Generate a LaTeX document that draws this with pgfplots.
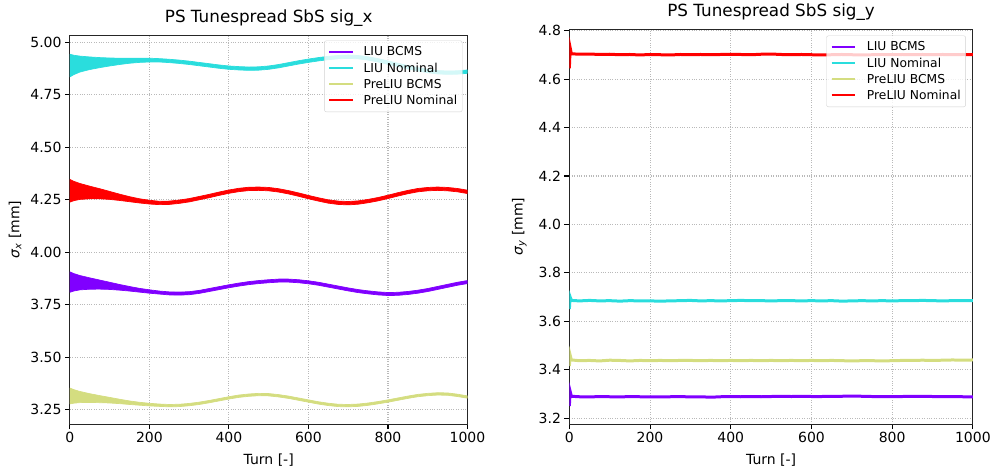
\documentclass[border=0pt]{standalone}
\usepackage{pgfplots}
\usepackage{pgfplotstable}
\pgfplotsset{compat=1.18}
\usepgfplotslibrary{fillbetween}
\usepackage{fontspec}
\setmainfont{DejaVu Sans}

\definecolor{cpur}{rgb}{0.5,0,1}
\definecolor{ccya}{rgb}{0.166,0.866,0.866}
\definecolor{cyel}{rgb}{0.833,0.866,0.5}
\definecolor{cred}{rgb}{1,0,0}

% left panel: band centres and half widths
\pgfplotstableread{
x c1 c2 c3 c4 h
0 3.858 4.890 3.315 4.293 0.054
10 3.857 4.893 3.313 4.292 0.046
25 3.855 4.897 3.310 4.290 0.038
50 3.851 4.901 3.305 4.285 0.030
75 3.846 4.904 3.300 4.279 0.024
100 3.840 4.907 3.295 4.271 0.019
125 3.833 4.910 3.289 4.262 0.015
150 3.826 4.913 3.283 4.253 0.012
175 3.819 4.915 3.278 4.245 0.010
200 3.813 4.916 3.274 4.239 0.009
225 3.808 4.915 3.271 4.235 0.008
250 3.804 4.912 3.269 4.236 0.008
275 3.803 4.908 3.270 4.241 0.008
300 3.805 4.903 3.274 4.248 0.008
325 3.811 4.897 3.280 4.258 0.008
350 3.820 4.891 3.288 4.268 0.008
375 3.829 4.885 3.297 4.279 0.008
400 3.838 4.880 3.306 4.289 0.008
425 3.846 4.877 3.314 4.297 0.008
450 3.853 4.875 3.319 4.302 0.008
475 3.858 4.876 3.322 4.303 0.008
500 3.862 4.880 3.321 4.301 0.008
525 3.865 4.887 3.316 4.295 0.008
550 3.865 4.896 3.309 4.286 0.008
575 3.862 4.905 3.300 4.275 0.008
600 3.857 4.913 3.291 4.263 0.008
625 3.850 4.920 3.282 4.252 0.008
650 3.841 4.926 3.275 4.242 0.008
675 3.832 4.930 3.270 4.236 0.008
700 3.823 4.932 3.269 4.234 0.008
725 3.815 4.930 3.271 4.237 0.008
750 3.809 4.924 3.276 4.244 0.008
775 3.804 4.915 3.283 4.253 0.008
800 3.801 4.904 3.291 4.264 0.008
825 3.802 4.893 3.300 4.276 0.008
850 3.806 4.882 3.309 4.287 0.008
875 3.812 4.872 3.317 4.296 0.008
900 3.820 4.864 3.322 4.301 0.008
925 3.830 4.858 3.325 4.303 0.008
950 3.840 4.856 3.324 4.301 0.008
975 3.850 4.857 3.318 4.296 0.008
1000 3.858 4.861 3.310 4.288 0.008
}\tabL

% right panel
\pgfplotstableread{
x a b c d
0 3.250 3.650 3.415 4.645
2 3.310 3.700 3.460 4.730
5 3.290 3.686 3.440 4.705
25 3.288 3.684 3.437 4.703
50 3.287 3.686 3.438 4.704
75 3.289 3.684 3.436 4.702
100 3.288 3.685 3.439 4.703
125 3.287 3.683 3.438 4.701
150 3.289 3.685 3.436 4.702
175 3.288 3.684 3.438 4.700
200 3.287 3.684 3.437 4.702
225 3.288 3.683 3.438 4.701
250 3.288 3.684 3.437 4.700
275 3.289 3.685 3.438 4.702
300 3.287 3.686 3.438 4.701
325 3.288 3.684 3.437 4.702
350 3.286 3.685 3.438 4.701
375 3.288 3.684 3.437 4.702
400 3.289 3.685 3.438 4.703
425 3.288 3.686 3.437 4.702
450 3.289 3.685 3.438 4.701
475 3.288 3.685 3.437 4.703
500 3.289 3.684 3.438 4.704
525 3.290 3.685 3.437 4.702
550 3.289 3.685 3.438 4.701
575 3.290 3.684 3.437 4.702
600 3.289 3.685 3.438 4.701
625 3.289 3.684 3.437 4.700
650 3.290 3.685 3.438 4.701
675 3.290 3.683 3.437 4.702
700 3.291 3.684 3.436 4.701
725 3.290 3.685 3.437 4.700
750 3.289 3.684 3.437 4.701
775 3.289 3.685 3.436 4.702
800 3.289 3.684 3.437 4.701
825 3.289 3.685 3.438 4.702
850 3.290 3.685 3.438 4.701
875 3.290 3.686 3.439 4.702
900 3.289 3.685 3.438 4.701
925 3.289 3.684 3.439 4.702
950 3.289 3.685 3.440 4.701
975 3.288 3.685 3.439 4.702
1000 3.288 3.685 3.440 4.701
}\tabR

\pgfplotsset{
  myax/.style={
    scale only axis,
    xmin=0, xmax=1000,
    xtick={0,200,400,600,800,1000},
    xtick pos=bottom, ytick pos=left,
    tick align=outside,
    major tick length=4.9pt,
    every tick/.style={black, line width=1.1pt},
    axis line style={line width=1.1pt, black!85},
    grid=major,
    major grid style={dotted, line width=1.1pt, gray!55},
    tick label style={font=\fontsize{14}{16}\selectfont},
    /pgf/number format/assume math mode=true,
    /pgf/number format/1000 sep={},
    label style={font=\fontsize{14}{16}\selectfont},
    title style={font=\fontsize{16.8}{19}\selectfont, at={(axis description cs:0.5,1)}, anchor=base, yshift=7.5pt},
    xlabel={Turn [-]},
    xlabel style={at={(axis description cs:0.5,0)}, anchor=base, yshift=-40pt},
    legend style={
      at={(1,1)}, anchor=north east,
      font=\fontsize{12.3}{14}\selectfont,
      fill=white, fill opacity=0.8, text opacity=1, draw opacity=1,
      draw=gray!35, rounded corners=2pt,
      row sep=3.4pt, inner xsep=4pt, inner ysep=5pt,
      nodes={inner sep=1pt},
    },
    legend cell align=left,
    legend image code/.code={\draw[#1] (0pt,0pt) -- (24pt,0pt); \path (33pt,0pt);},
  }
}

\begin{document}
\begin{tikzpicture}
\path (0,0) rectangle (994pt,466pt);

\begin{axis}[myax,
  at={(70pt,44pt)}, anchor=south west,
  width=398pt, height=389pt,
  ymin=3.181, ymax=5.033,
  ytick={3.25,3.5,3.75,4,4.25,4.5,4.75,5},
  yticklabel style={/pgf/number format/.cd, fixed, fixed zerofill, precision=2},
  title={PS Tunespread SbS sig\_x},
  ylabel={\textit{σ}\textsubscript{\textit{x}} [mm]},
  ylabel style={at={(axis description cs:-0.138,0.5)}, anchor=center},
  legend style={xshift=-5pt, yshift=-5pt},
]
\addplot[name path=p1u, draw=none, forget plot] table[x=x, y expr=\thisrow{c1}+0.9*\thisrow{h}] {\tabL};
\addplot[name path=p1l, draw=none, forget plot] table[x=x, y expr=\thisrow{c1}-0.9*\thisrow{h}] {\tabL};
\addplot[fill=cpur, draw=cpur, line width=0.7pt, forget plot] fill between[of=p1u and p1l];

\addplot[name path=p2u, draw=none, forget plot] table[x=x, y expr=\thisrow{c2}+\thisrow{h}] {\tabL};
\addplot[name path=p2l, draw=none, forget plot] table[x=x, y expr=\thisrow{c2}-\thisrow{h}] {\tabL};
\addplot[fill=ccya, draw=ccya, line width=0.7pt, forget plot] fill between[of=p2u and p2l];

\addplot[name path=p3u, draw=none, forget plot] table[x=x, y expr=\thisrow{c3}+0.7*\thisrow{h}] {\tabL};
\addplot[name path=p3l, draw=none, forget plot] table[x=x, y expr=\thisrow{c3}-0.7*\thisrow{h}] {\tabL};
\addplot[fill=cyel, draw=cyel, line width=0.7pt, forget plot] fill between[of=p3u and p3l];

\addplot[name path=p4u, draw=none, forget plot] table[x=x, y expr=\thisrow{c4}+\thisrow{h}] {\tabL};
\addplot[name path=p4l, draw=none, forget plot] table[x=x, y expr=\thisrow{c4}-\thisrow{h}] {\tabL};
\addplot[fill=cred, draw=cred, line width=0.7pt, forget plot] fill between[of=p4u and p4l];

\addlegendimage{legend image code/.code={\draw[draw=cpur, line width=2pt, draw opacity=1] (0pt,0pt) -- (24pt,0pt); \path (33pt,0pt);}}
\addlegendentry{LIU BCMS}
\addlegendimage{legend image code/.code={\draw[draw=ccya, line width=2pt, draw opacity=1] (0pt,0pt) -- (24pt,0pt); \path (33pt,0pt);}}
\addlegendentry{LIU Nominal}
\addlegendimage{legend image code/.code={\draw[draw=cyel, line width=2pt, draw opacity=1] (0pt,0pt) -- (24pt,0pt); \path (33pt,0pt);}}
\addlegendentry{PreLIU BCMS}
\addlegendimage{legend image code/.code={\draw[draw=cred, line width=2pt, draw opacity=1] (0pt,0pt) -- (24pt,0pt); \path (33pt,0pt);}}
\addlegendentry{PreLIU Nominal}
\end{axis}

\begin{axis}[myax,
  at={(570pt,44pt)}, anchor=south west,
  width=404pt, height=395pt,
  ymin=3.175, ymax=4.805,
  ytick={3.2,3.4,3.6,3.8,4.0,4.2,4.4,4.6,4.8},
  yticklabel style={/pgf/number format/.cd, fixed, fixed zerofill, precision=1},
  title={PS Tunespread SbS sig\_y},
  ylabel={\textit{σ}\textsubscript{\textit{y}} [mm]},
  ylabel style={at={(axis description cs:-0.124,0.5)}, anchor=center},
  legend style={xshift=-7pt, yshift=-6pt},
  legend image code/.code={\draw[#1, line width=2pt] (0pt,0pt) -- (24pt,0pt); \path (33pt,0pt);},
]
\addplot[cpur, line width=3pt] table[x=x, y=a] {\tabR};
\addlegendentry{LIU BCMS}
\addplot[ccya, line width=3pt] table[x=x, y=b] {\tabR};
\addlegendentry{LIU Nominal}
\addplot[cyel, line width=3pt] table[x=x, y=c] {\tabR};
\addlegendentry{PreLIU BCMS}
\addplot[cred, line width=3pt] table[x=x, y=d] {\tabR};
\addlegendentry{PreLIU Nominal}
\end{axis}
\end{tikzpicture}
\end{document}
